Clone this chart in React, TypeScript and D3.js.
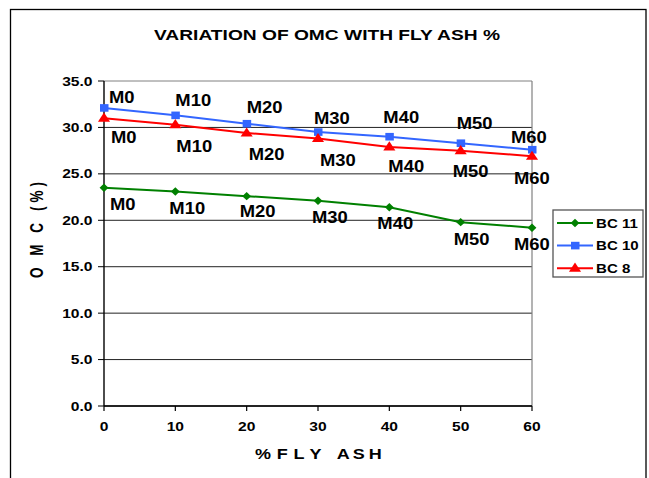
import React from "react";
import * as d3 from "d3";

const xValues = [0, 10, 20, 30, 40, 50, 60];
const pointLabels = ["M0", "M10", "M20", "M30", "M40", "M50", "M60"];
const bc11 = [23.5, 23.1, 22.6, 22.1, 21.4, 19.8, 19.2];
const bc10 = [32.1, 31.3, 30.4, 29.5, 29.0, 28.3, 27.6];
const bc8 = [31.0, 30.3, 29.4, 28.8, 27.9, 27.5, 26.9];
const yTicks = [0, 5, 10, 15, 20, 25, 30, 35];
const xTicks = [0, 10, 20, 30, 40, 50, 60];
const seriesNames = ["BC 11", "BC 10", "BC 8"];
const xTitleWords = ["% F L Y", "A S H"];

// label placement tweaks (pixels, relative to the point)
const labelDx = {
  "BC 11": [6, -6, -7, -6, -12, -7, -18],
  "BC 10": [5, 0, 0, -4, -6, -4, -21],
  "BC 8": [7, 1, 2, 2, -1, -8, -18],
};
const labelDy = {
  "BC 11": [22, 22, 21, 22, 22, 23, 22],
  "BC 10": [-5, -9, -11, -8, -14, -14, -7],
  "BC 8": [25, 27, 27, 27, 25, 26, 28],
};

const W = 649;
const H = 478;
const FONT = "Arial, 'Liberation Sans', Helvetica, sans-serif";

const x = d3.scaleLinear().domain([0, 60]).range([104, 532]);
const y = d3.scaleLinear().domain([0, 35]).range([406, 81]);

const series = [
  { name: "BC 11", values: bc11, color: "#008000", marker: "diamond" },
  { name: "BC 10", values: bc10, color: "#3366FF", marker: "square" },
  { name: "BC 8", values: bc8, color: "#FF0000", marker: "triangle" },
];

function Marker({ type, cx, cy, color }: { type: string; cx: number; cy: number; color: string }) {
  if (type === "square") {
    return <rect x={cx - 4} y={cy - 3.8} width={8.5} height={7.6} fill={color} />;
  }
  if (type === "diamond") {
    const s = 4.2;
    return (
      <path
        d={`M${cx},${cy - s} L${cx + s * 1.05},${cy} L${cx},${cy + s} L${cx - s * 1.05},${cy} Z`}
        fill={color}
      />
    );
  }
  const s = d3.symbol(d3.symbolTriangle, 48)() as string;
  return <path d={s} transform={`translate(${cx},${cy + 0.5}) scale(1.15,1)`} fill={color} />;
}

function SText({
  x: tx,
  y: ty,
  sx = 1,
  size,
  anchor = "start",
  children,
  fill = "#000",
}: {
  x: number;
  y: number;
  sx?: number;
  size: number;
  anchor?: string;
  children: React.ReactNode;
  fill?: string;
}) {
  return (
    <text
      transform={`translate(${tx},${ty}) scale(${sx},1)`}
      fontFamily={FONT}
      fontWeight="bold"
      fontSize={size}
      textAnchor={anchor}
      fill={fill}
    >
      {children}
    </text>
  );
}

export default function App() {
  const line = d3
    .line<number>()
    .x((_, i) => x(xValues[i]))
    .y((d) => y(d));

  const xTitleParts = [
    { text: xTitleWords[0], x0: 255, len: 66.5 },
    { text: xTitleWords[1], x0: 336.7, len: 45 },
  ];

  return (
    <svg
      width={W}
      height={H}
      style={{ position: "absolute", left: 0, top: 0, background: "#fff" }}
    >
      <rect x={0} y={0} width={W} height={H} fill="#fff" />
      {/* outer frame */}
      <rect x={10.5} y={9.5} width={635.5} height={490} fill="none" stroke="#000" strokeWidth={1.3} />

      {/* title */}
      <text
        x={327}
        y={39.5}
        textAnchor="middle"
        fontFamily={FONT}
        fontWeight="bold"
        fontSize={15.5}
        textLength={346}
        lengthAdjust="spacingAndGlyphs"
      >
        VARIATION OF OMC WITH FLY ASH %
      </text>

      {/* gridlines */}
      {yTicks.map((t) => (
        <line key={"g" + t} x1={x(0)} x2={x(60)} y1={y(t)} y2={y(t)} stroke={t === 35 ? "#808080" : "#222"} strokeWidth={1} />
      ))}
      {/* plot right border */}
      <line x1={x(60)} x2={x(60)} y1={y(35)} y2={y(0)} stroke="#808080" strokeWidth={1.2} />

      {/* y axis */}
      <line x1={x(0)} x2={x(0)} y1={y(35)} y2={y(0)} stroke="#000" strokeWidth={1.4} />
      {yTicks.map((t) => (
        <g key={"yt" + t}>
          <line x1={x(0) - 6} x2={x(0)} y1={y(t)} y2={y(t)} stroke="#000" strokeWidth={1} />
          <SText x={92.5} y={y(t) + 4.5} sx={1.25} size={12.5} anchor="end">
            {d3.format(".1f")(t)}
          </SText>
        </g>
      ))}

      {/* x axis */}
      <line x1={x(0)} x2={x(60)} y1={y(0)} y2={y(0)} stroke="#000" strokeWidth={1.4} />
      {xTicks.map((t) => (
        <g key={"xt" + t}>
          <line x1={x(t)} x2={x(t)} y1={y(0)} y2={y(0) + 5} stroke="#000" strokeWidth={1.2} />
          <SText x={x(t)} y={431} sx={1.2} size={13} anchor="middle">
            {t}
          </SText>
        </g>
      ))}

      {/* axis titles */}
      {xTitleParts.map((p) => (
        <text
          key={p.text}
          transform={`translate(${p.x0},458.5) scale(1.2,1)`}
          fontFamily={FONT}
          fontWeight="bold"
          fontSize={15}
          textLength={p.len / 1.2}
          lengthAdjust="spacing"
        >
          {p.text}
        </text>
      ))}
      <text
        transform={`translate(43,230) scale(1.3,1) rotate(-90)`}
        textAnchor="middle"
        fontFamily={FONT}
        fontWeight="bold"
        fontSize={13.5}
        textLength={96}
        lengthAdjust="spacing"
      >
        {"O M C (%)"}
      </text>

      {/* series */}
      {series.map((s) => (
        <g key={s.name}>
          <path d={line(s.values) as string} fill="none" stroke={s.color} strokeWidth={2} />
          {s.values.map((v, i) => (
            <Marker key={i} type={s.marker} cx={x(xValues[i])} cy={y(v)} color={s.color} />
          ))}
        </g>
      ))}

      {/* data labels */}
      {series.map((s) => (
        <g key={"lab" + s.name}>
          {s.values.map((v, i) => (
            <SText
              key={i}
              x={x(xValues[i]) + (labelDx as any)[s.name][i]}
              y={y(v) + (labelDy as any)[s.name][i]}
              sx={1.15}
              size={16}
            >
              {pointLabels[i]}
            </SText>
          ))}
        </g>
      ))}

      {/* legend */}
      <rect x={553} y={210} width={90} height={67} fill="#fff" stroke="#555" strokeWidth={1.3} />
      {seriesNames.map((name, i) => {
        const s = series.find((d) => d.name === name)!;
        const ry = 223 + i * 22.6;
        return (
          <g key={"lg" + name}>
            <line x1={557} x2={593} y1={ry} y2={ry} stroke={s.color} strokeWidth={2} />
            <Marker type={s.marker} cx={575} cy={ry} color={s.color} />
            <SText x={596} y={ry + 4.6} sx={1.16} size={13}>
              {name}
            </SText>
          </g>
        );
      })}
    </svg>
  );
}
